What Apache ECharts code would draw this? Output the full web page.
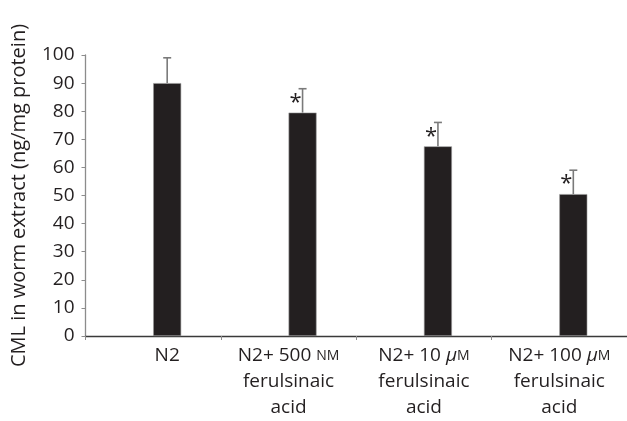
<!DOCTYPE html>
<html>
<head>
<meta charset="utf-8">
<script src="https://cdn.jsdelivr.net/npm/echarts@6/dist/echarts.min.js"></script>
<style>html,body{margin:0;padding:0;background:#fff;}#c{width:627px;height:421px;}</style>
</head>
<body>
<div id="c"></div>
<script>
const categories = ['N2', 'N2+ 500 nM ferulsinaic acid', 'N2+ 10 μM ferulsinaic acid', 'N2+ 100 μM ferulsinaic acid'];
const values = [90, 79.5, 67.5, 50.5];
const errors = [9, 8.5, 8.5, 8.5];
const significance = ['', '*', '*', '*'];
const yTicks = [0, 10, 20, 30, 40, 50, 60, 70, 80, 90, 100];

const FONT = 'Open Sans';
const TXT = '#231f20';
const BAR_OFFSET = 14;
const FS = 19;
const LH = 26;

const chart = echarts.init(document.getElementById('c'), null, {renderer: 'canvas'});

const labelRich = {
  n: {fontFamily: FONT, fontSize: FS, color: TXT, lineHeight: LH},
  sc: {fontFamily: FONT, fontSize: 14, color: TXT, lineHeight: LH},
  mu: {fontFamily: FONT, fontSize: FS, fontStyle: 'italic', color: TXT, lineHeight: LH},
  first: {fontFamily: FONT, fontSize: FS, color: TXT, lineHeight: LH, padding: [0, 0, 0, 28]}
};

function fmtLabel(v, idx) {
  if (idx === 0) return '{first|' + v + '}';
  const m = v.match(/^(N2\+ \d+) ([nμ])M (.*) (acid)$/);
  if (!m) return '{n|' + v + '}';
  const prefix = m[2] === 'μ' ? '{n|' + m[1] + ' }{mu|μ}{sc|M}' : '{n|' + m[1] + ' }{sc|NM}';
  return prefix + '\n{n|' + m[3] + '}\n{n|' + m[4] + '}';
}

chart.setOption({
  animation: false,
  backgroundColor: '#fff',
  grid: {left: 85.5, right: 0, top: 55, bottom: 80, containLabel: false},
  xAxis: {
    type: 'category',
    data: categories,
    axisLine: {lineStyle: {color: '#3a3a3a', width: 1.3}},
    axisTick: {show: true, inside: false, length: 4, lineStyle: {color: '#8c8c8c'}},
    axisLabel: {interval: 0, margin: 7, formatter: fmtLabel, rich: labelRich, color: TXT, fontFamily: FONT, fontSize: FS, lineHeight: LH}
  },
  yAxis: {
    type: 'value',
    min: yTicks[0],
    max: yTicks[yTicks.length - 1],
    interval: 10,
    name: 'CML in worm extract (ng/mg protein)',
    nameLocation: 'middle',
    nameRotate: 90,
    nameGap: 56,
    nameTextStyle: {fontFamily: FONT, fontSize: 20, color: TXT},
    axisLine: {show: true, lineStyle: {color: '#8c8c8c', width: 1.3}},
    axisTick: {show: true, inside: false, length: 4, lineStyle: {color: '#8c8c8c'}},
    axisLabel: {margin: 11, fontFamily: FONT, fontSize: FS, color: TXT},
    splitLine: {show: false}
  },
  series: [
    {type: 'bar', data: values.map(() => '-'), barWidth: 28, barGap: '0%'},
    {type: 'bar', data: values, barWidth: 28, barGap: '0%',
      itemStyle: {color: '#231f20', borderColor: '#9a9a9a', borderWidth: 0.6}},
    {
      type: 'custom',
      data: values.map((v, i) => [i, v, errors[i]]),
      z: 5,
      renderItem: function (params, api) {
        const i = api.value(0);
        const v = api.value(1);
        const e = api.value(2);
        const sig = significance[i];
        const base = api.coord([i, v]);
        const top = api.coord([i, v + e]);
        const x = base[0] + BAR_OFFSET;
        const children = [
          {type: 'line', shape: {x1: x, y1: base[1], x2: x, y2: top[1]}, style: {stroke: '#7a7a7a', lineWidth: 1.6}},
          {type: 'line', shape: {x1: x - 4, y1: top[1], x2: x + 4, y2: top[1]}, style: {stroke: '#7a7a7a', lineWidth: 1.6}}
        ];
        if (sig) {
          children.push({type: 'text', style: {text: sig, x: x - 7, y: base[1] + 1, align: 'center', verticalAlign: 'bottom', fontFamily: FONT, fontSize: 22, fill: TXT}});
        }
        return {type: 'group', children: children};
      }
    }
  ]
});
</script>
</body>
</html>
